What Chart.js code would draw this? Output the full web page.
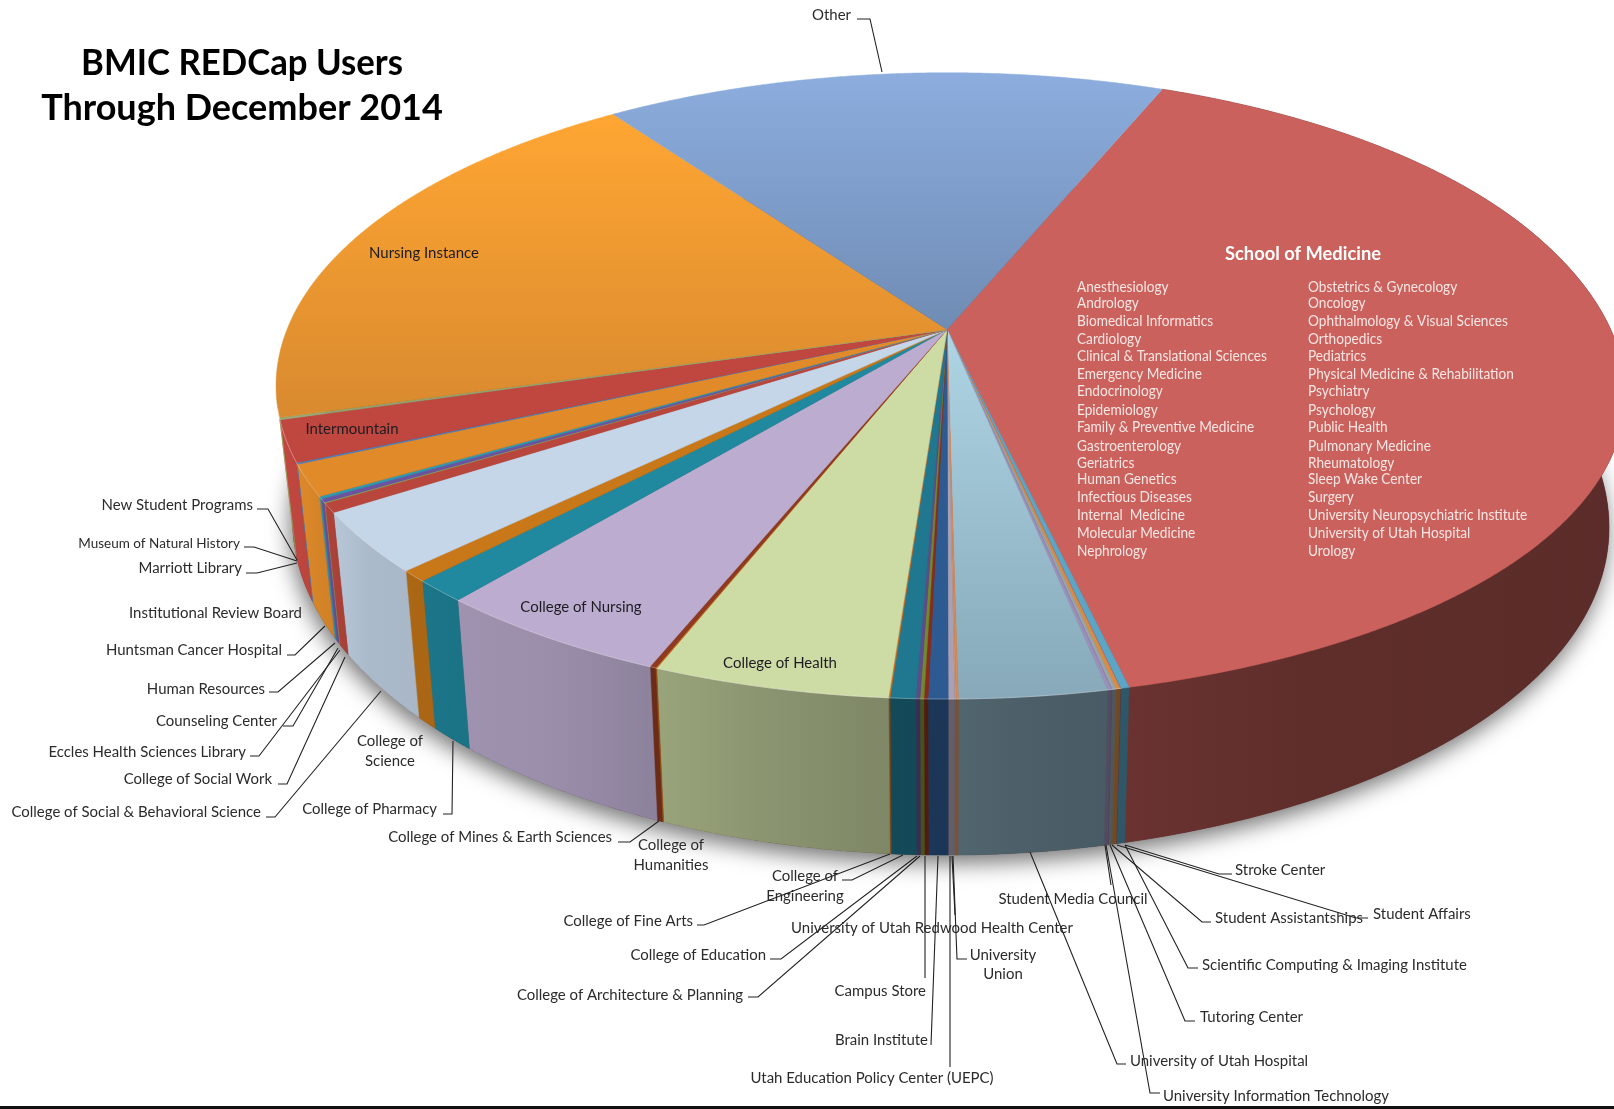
<!DOCTYPE html>
<html>
<head>
<meta charset="utf-8">
<title>BMIC REDCap Users</title>
<script src="https://cdn.jsdelivr.net/npm/chart.js@4/dist/chart.umd.min.js"></script>
<style>
  html, body { margin: 0; padding: 0; background: #fff; }
  canvas { display: block; }
</style>
</head>
<body>
<canvas id="usersPie" width="1614" height="1109"></canvas>
<script>
// Slices run clockwise, starting at School of Medicine
const categories = [
  'School of Medicine', 'Scientific Computing & Imaging Institute', 'Stroke Center', 'Student Affairs',
  'Student Assistantships', 'Student Media Council', 'Tutoring Center', 'University Information Technology',
  'University of Utah Hospital', 'University of Utah Redwood Health Center', 'University Union',
  'Utah Education Policy Center (UEPC)', 'Brain Institute', 'Campus Store', 'College of Architecture & Planning',
  'College of Education', 'College of Fine Arts', 'College of Engineering', 'College of Health',
  'College of Humanities', 'College of Mines & Earth Sciences', 'College of Nursing', 'College of Pharmacy',
  'College of Science', 'College of Social & Behavioral Science', 'College of Social Work',
  'Eccles Health Sciences Library', 'Counseling Center', 'Human Resources', 'Huntsman Cancer Hospital',
  'Institutional Review Board', 'Intermountain', 'Marriott Library', 'Museum of Natural History',
  'New Student Programs', 'Nursing Instance', 'Other'
];

// Share of users, percent
const shares = [
  40.14, 0.17, 0.01, 0.09,
  0.01, 0.07, 0.01, 0.08,
  2.99, 0.04, 0.03,
  0.13, 0.40, 0.08, 0.08,
  0.08, 0.51, 0.03, 4.81,
  0.03, 0.12, 4.91, 1.13,
  0.57, 3.10, 0.48,
  0.04, 0.17, 0.12, 1.61,
  0.08, 2.11, 0.04, 0.03,
  0.04, 19.61, 16.06
];

const sliceColors = [
  '#cb615c', '#5ba6c6', '#7f6a9e', '#d98a45',
  '#a8ae6a', '#96a5b0', '#8a7aa8', '#9a8fbb',
  '#8aadbe', '#d98a55', '#d0905c',
  '#a8a0b4', '#2e5a92', '#8a2a1a', '#6e8a30',
  '#5f4a8b', '#1f7890', '#c86a1a', '#cddba5',
  '#c86a1a', '#8e3a20', '#bcadd0', '#20899f',
  '#c87818', '#c5d6e8', '#b8463c',
  '#8fa65a', '#6c52a0', '#2f97b0', '#e08a2a',
  '#4f81bd', '#c0473f', '#8fa65a', '#9aa0a8',
  '#8fa65a', '#f79d32', '#7f9fcc'
];

// Far and near colours for the slices with a visible ramp across the top face
const topRamps = {
  'Other': ['#8cadde', '#6f8cb4'],
  'Nursing Instance': ['#ffa633', '#d98a2f'],
  'University of Utah Hospital': ['#aed5e5', '#87a9ba']
};

const departmentsLeft = [
  'Anesthesiology', 'Andrology', 'Biomedical Informatics', 'Cardiology', 'Clinical & Translational Sciences',
  'Emergency Medicine', 'Endocrinology', 'Epidemiology', 'Family & Preventive Medicine', 'Gastroenterology',
  'Geriatrics', 'Human Genetics', 'Infectious Diseases', 'Internal  Medicine', 'Molecular Medicine', 'Nephrology'
];
const departmentsRight = [
  'Obstetrics & Gynecology', 'Oncology', 'Ophthalmology & Visual Sciences', 'Orthopedics', 'Pediatrics',
  'Physical Medicine & Rehabilitation', 'Psychiatry', 'Psychology', 'Public Health', 'Pulmonary Medicine',
  'Rheumatology', 'Sleep Wake Center', 'Surgery', 'University Neuropsychiatric Institute',
  'University of Utah Hospital', 'Urology'
];
const departmentRows = [287, 303, 321, 339, 356, 374, 391, 410, 427, 446, 463, 479, 497, 515, 533, 551];

// Disc geometry: apex of the slices, radii, perspective, wall height.
// wallEnd is where the side wall turns behind the top face (radians, clockwise from far side).
const disc = {
  cx: 947, cy: 329.5, rx: 660, ry: 303, persp: 0.18, depth: 128, shrink: 0.976,
  wallEnd: 253.6 * Math.PI / 180
};

// Wall brightness from left to right
const wallShade = [[290, 1], [370, 0.87], [550, 0.82], [760, 0.68], [1030, 0.55], [1300, 0.47], [1614, 0.45]];

const LABEL_FONT = '15.5px Lato';
const LABEL_SQUEEZE = 0.965;

// Labels sitting on the pie
const insideLabels = [
  { text: 'Nursing Instance', x: 424, y: 253 },
  { text: 'Intermountain', x: 352, y: 429 },
  { text: 'College of Nursing', x: 581, y: 607 },
  { text: 'College of Health', x: 780, y: 663 }
];

// Labels around the pie with their leader lines
const callouts = [
  { text: 'Other', x: 851, y: 15, align: 'right', leader: [[857, 19], [870, 19], [882, 72]] },
  { text: 'New Student Programs', x: 253, y: 505, align: 'right', leader: [[257, 509], [268, 509], [297, 560]] },
  { text: 'Museum of Natural History', x: 240, y: 543, align: 'right', size: 14, leader: [[244, 547], [254, 547], [297, 561]] },
  { text: 'Marriott Library', x: 242, y: 568, align: 'right', leader: [[246, 573], [257, 573], [297, 563]] },
  { text: 'Institutional Review Board', x: 302, y: 613, align: 'right' },
  { text: 'Huntsman Cancer Hospital', x: 282, y: 650, align: 'right', leader: [[287, 655], [295, 655], [325, 626]] },
  { text: 'Human Resources', x: 265, y: 689, align: 'right', leader: [[269, 692], [278, 692], [335, 643]] },
  { text: 'Counseling Center', x: 277, y: 721, align: 'right', leader: [[283, 726], [293, 726], [338, 648]] },
  { text: 'Eccles Health Sciences Library', x: 246, y: 752, align: 'right', leader: [[250, 756], [259, 756], [340, 650]] },
  { text: 'College of Social Work', x: 272, y: 779, align: 'right', leader: [[278, 784], [287, 784], [345, 657]] },
  { text: 'College of Social & Behavioral Science', x: 261, y: 812, align: 'right', leader: [[266, 817], [275, 817], [381, 691]] },
  { text: 'College of', x: 390, y: 741, align: 'center' },
  { text: 'Science', x: 390, y: 761, align: 'center' },
  { text: 'College of Pharmacy', x: 437, y: 809, align: 'right', leader: [[443, 814], [452, 814], [453, 741]] },
  { text: 'College of Mines & Earth Sciences', x: 612, y: 837, align: 'right', leader: [[618, 842], [630, 842], [659, 821]] },
  { text: 'College of', x: 671, y: 845, align: 'center' },
  { text: 'Humanities', x: 671, y: 865, align: 'center' },
  { text: 'College of', x: 805, y: 876, align: 'center', leader: [[842, 880], [852, 880], [903, 855]] },
  { text: 'Engineering', x: 805, y: 896, align: 'center' },
  { text: 'College of Fine Arts', x: 693, y: 921, align: 'right', leader: [[697, 925], [704, 925], [890, 854]] },
  { text: 'College of Education', x: 766, y: 955, align: 'right', leader: [[770, 959], [781, 959], [917, 856]] },
  { text: 'College of Architecture & Planning', x: 743, y: 995, align: 'right', leader: [[748, 997], [758, 997], [920, 856]] },
  { text: 'University of Utah Redwood Health Center', x: 932, y: 928, align: 'center', leader: [[955, 915], [952, 856]] },
  { text: 'Campus Store', x: 926, y: 991, align: 'right', leader: [[925, 978], [925, 856]] },
  { text: 'Brain Institute', x: 928, y: 1040, align: 'right', leader: [[931, 1045], [938, 856]] },
  { text: 'Utah Education Policy Center (UEPC)', x: 872, y: 1078, align: 'center', leader: [[950, 1067], [950, 856]] },
  { text: 'University', x: 1003, y: 955, align: 'center', leader: [[967, 959], [957, 959], [953, 856]] },
  { text: 'Union', x: 1003, y: 974, align: 'center' },
  { text: 'Student Media Council', x: 1073, y: 899, align: 'center', leader: [[1111, 885], [1105, 845]] },
  { text: 'Stroke Center', x: 1235, y: 870, align: 'left', leader: [[1232, 874], [1219, 874], [1125, 845]] },
  { text: 'Student Affairs', x: 1373, y: 914, align: 'left', leader: [[1368, 918], [1356, 918], [1117, 845]] },
  { text: 'Student Assistantships', x: 1215, y: 918, align: 'left', leader: [[1211, 922], [1202, 922], [1112, 845]] },
  { text: 'Scientific Computing & Imaging Institute', x: 1202, y: 965, align: 'left', leader: [[1198, 968], [1188, 968], [1125, 845]] },
  { text: 'Tutoring Center', x: 1200, y: 1017, align: 'left', leader: [[1195, 1021], [1185, 1021], [1110, 845]] },
  { text: 'University of Utah Hospital', x: 1130, y: 1061, align: 'left', leader: [[1126, 1064], [1117, 1064], [1030, 852]] },
  { text: 'University Information Technology', x: 1163, y: 1096, align: 'left', leader: [[1160, 1093], [1150, 1093], [1106, 845]] }
];

// The rim swells a little towards the lower right
function rimBulge(theta) {
  const from = 70 * Math.PI / 180;
  const to = 170 * Math.PI / 180;
  if (theta <= from || theta >= to) return 1;
  const s = Math.sin(Math.PI * (theta - from) / (to - from));
  return 1 + 0.016 * s * s;
}

// theta is clockwise from the far side of the disc
function rimPoint(theta) {
  const w = 1 + disc.persp * Math.cos(theta);
  const b = rimBulge(theta);
  return {
    x: disc.cx + b * disc.rx * Math.sin(theta) / w,
    y: disc.cy - b * disc.ry * Math.cos(theta) / w,
    w: w
  };
}

function basePoint(theta) {
  const p = rimPoint(theta);
  return { x: disc.cx + (p.x - disc.cx) * disc.shrink, y: p.y + disc.depth / p.w };
}

function arcSamples(from, to) {
  const steps = Math.max(2, Math.ceil((to - from) / 0.005));
  const out = [];
  for (let i = 0; i <= steps; i++) out.push(from + (to - from) * i / steps);
  return out;
}

function hexToRgb(hex) {
  const n = parseInt(hex.slice(1), 16);
  return [n >> 16, (n >> 8) & 255, n & 255];
}

function shaded(hex, f) {
  const c = hexToRgb(hex);
  return 'rgb(' + Math.round(c[0] * f) + ',' + Math.round(c[1] * f) + ',' + Math.round(c[2] * f) + ')';
}

function wallFill(ctx, hex) {
  const x0 = wallShade[0][0];
  const x1 = wallShade[wallShade.length - 1][0];
  const g = ctx.createLinearGradient(x0, 0, x1, 0);
  wallShade.forEach(s => g.addColorStop((s[0] - x0) / (x1 - x0), shaded(hex, s[1])));
  return g;
}

function tracePolygon(ctx, pts) {
  ctx.beginPath();
  pts.forEach((p, i) => i ? ctx.lineTo(p.x, p.y) : ctx.moveTo(p.x, p.y));
  ctx.closePath();
}

function drawText(ctx, text, x, y, align, font, color, squeeze) {
  ctx.save();
  ctx.translate(x, y);
  ctx.scale(squeeze, 1);
  ctx.font = font;
  ctx.fillStyle = color;
  ctx.textAlign = align;
  ctx.textBaseline = 'middle';
  ctx.fillText(text, 0, 0);
  ctx.restore();
}

const tiltedPie = {
  id: 'tiltedPie',
  // Replaces the flat arcs: angles still come from the pie controller
  beforeDatasetsDraw(chart) {
    const ctx = chart.ctx;
    const arcs = chart.getDatasetMeta(0).data;
    const angles = arcs.map(a => [a.startAngle + Math.PI / 2, a.endAngle + Math.PI / 2]);

    // Soft shadow under the whole disc
    ctx.save();
    ctx.shadowColor = 'rgba(0,0,0,0.55)';
    ctx.shadowBlur = 22;
    ctx.shadowOffsetY = 8;
    ctx.shadowOffsetX = -2;
    ctx.fillStyle = '#5a2a26';
    tracePolygon(ctx, arcSamples(0, Math.PI * 2).map(basePoint));
    ctx.fill();
    ctx.restore();

    // Side walls, only up to where they pass behind the top face
    angles.forEach((ang, i) => {
      if (ang[0] >= disc.wallEnd) return;
      const ts = arcSamples(ang[0], Math.min(ang[1], disc.wallEnd));
      const pts = ts.map(rimPoint).concat(ts.slice().reverse().map(basePoint));
      const fill = wallFill(ctx, sliceColors[i]);
      tracePolygon(ctx, pts);
      ctx.fillStyle = fill;
      ctx.strokeStyle = fill;
      ctx.lineWidth = 0.5;
      ctx.fill();
      ctx.stroke();
    });

    // Top faces
    angles.forEach((ang, i) => {
      const rim = arcSamples(ang[0], ang[1]).map(rimPoint);
      const pts = [{ x: disc.cx, y: disc.cy }].concat(rim);
      let fill = sliceColors[i];
      const ramp = topRamps[categories[i]];
      if (ramp) {
        const ys = pts.map(p => p.y);
        const g = ctx.createLinearGradient(0, Math.min(...ys), 0, Math.max(...ys));
        g.addColorStop(0, ramp[0]);
        g.addColorStop(1, ramp[1]);
        fill = g;
      }
      tracePolygon(ctx, pts);
      ctx.fillStyle = fill;
      ctx.strokeStyle = fill;
      ctx.lineWidth = 0.5;
      ctx.fill();
      ctx.stroke();
    });

    // Pale highlight where the top face meets the wall
    ctx.beginPath();
    arcSamples(Math.PI * 0.93, Math.PI * 1.42).map(rimPoint).forEach((p, i) => i ? ctx.lineTo(p.x, p.y) : ctx.moveTo(p.x, p.y));
    ctx.strokeStyle = 'rgba(255,255,255,0.3)';
    ctx.lineWidth = 1;
    ctx.stroke();

    return false;
  },
  afterDraw(chart) {
    const ctx = chart.ctx;
    const dark = '#2b2b2b';

    ctx.fillStyle = '#111';
    ctx.fillRect(0, 1106, chart.width, 3);

    drawText(ctx, 'BMIC REDCap Users', 242, 63, 'center', 'bold 36px Lato', '#000', 0.965);
    drawText(ctx, 'Through December 2014', 242, 108, 'center', 'bold 36px Lato', '#000', 1);

    drawText(ctx, 'School of Medicine', 1303, 254, 'center', 'bold 18.5px Lato', '#fff', 0.99);
    departmentRows.forEach((y, i) => {
      drawText(ctx, departmentsLeft[i], 1077, y, 'left', '14.5px Lato', '#f6e6e4', 0.94);
      drawText(ctx, departmentsRight[i], 1308, y, 'left', '14.5px Lato', '#f6e6e4', 0.94);
    });

    insideLabels.forEach(l => drawText(ctx, l.text, l.x, l.y, 'center', LABEL_FONT, '#1c1c22', LABEL_SQUEEZE));

    callouts.forEach(c => {
      if (c.leader) {
        ctx.beginPath();
        c.leader.forEach((p, i) => i ? ctx.lineTo(p[0], p[1]) : ctx.moveTo(p[0], p[1]));
        ctx.strokeStyle = '#222';
        ctx.lineWidth = 1.1;
        ctx.stroke();
      }
      const font = c.size ? c.size + 'px Lato' : LABEL_FONT;
      drawText(ctx, c.text, c.x, c.y, c.align, font, dark, LABEL_SQUEEZE);
    });
  }
};

new Chart(document.getElementById('usersPie'), {
  type: 'pie',
  data: {
    labels: categories,
    datasets: [{ data: shares, backgroundColor: sliceColors, borderWidth: 0 }]
  },
  options: {
    responsive: false,
    animation: false,
    rotation: 22.36,
    plugins: {
      legend: { display: false },
      tooltip: { enabled: false }
    }
  },
  plugins: [tiltedPie]
});
</script>
</body>
</html>
